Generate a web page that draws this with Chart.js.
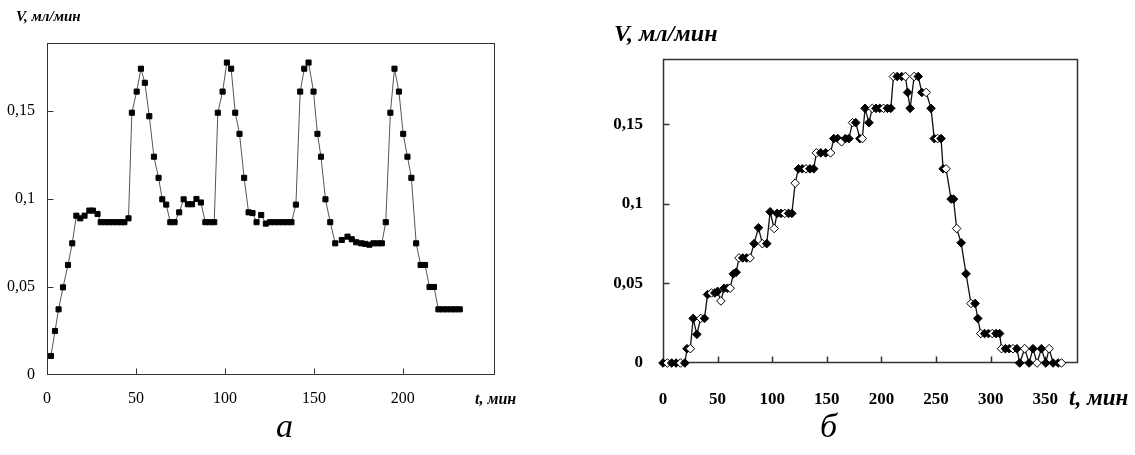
<!DOCTYPE html>
<html>
<head>
<meta charset="utf-8">
<script src="https://cdn.jsdelivr.net/npm/chart.js@4.4.1/dist/chart.umd.min.js"></script>
<style>
  body { margin: 0; background: #fff; width: 1135px; height: 455px; overflow: hidden; position: relative; font-family: "Liberation Serif", "Times New Roman", serif; }
  canvas { position: absolute; top: 0; }
  #chartA { left: 0; }
  #chartB { left: 560px; }
  .lbl { position: absolute; white-space: nowrap; font-style: italic; line-height: 1; color: #000; }
  .b { font-weight: bold; }
</style>
</head>
<body>
<canvas id="chartA" width="520" height="420"></canvas>
<canvas id="chartB" width="575" height="420"></canvas>

<div class="lbl b" style="left:16px; top:9px; font-size:15px;">V, мл/мин</div>
<div class="lbl b" style="left:475px; top:391px; font-size:16px;">t, мин</div>
<div class="lbl" style="left:276px; top:409px; font-size:34px;">а</div>

<div class="lbl b" style="left:614px; top:21px; font-size:24px;">V, мл/мин</div>
<div class="lbl b" style="left:1069px; top:386px; font-size:23px;">t, мин</div>
<div class="lbl" style="left:820px; top:409px; font-size:34px;">б</div>

<script>
// chart a: four peaks, t in min, V in ml/min
const timeA = [2.2, 4.5, 6.5, 9, 11.8, 14.2, 16.5, 18.7, 21.1, 23.8, 25.8, 28.4,
  30.2, 32.5, 34.8, 37.1, 39.4, 41.7, 43.5, 45.8,
  47.7, 50.4, 52.8, 55, 57.5, 60.1, 62.7, 64.8, 67, 69.3, 71.7,
  74.3, 76.8, 79.2, 81.5, 84, 86.5, 89, 91.5, 94,
  96, 98.7, 101.1, 103.5, 105.8, 108.2, 110.8, 113.3, 115.5, 117.8, 120.4, 123,
  125.4, 127.8, 130.2, 132.6, 135, 137.4, 139.9,
  142.3, 144.6, 147, 149.8, 152, 154, 156.5, 159.2, 162,
  165.7, 168.9, 171.3, 173.8, 176.6, 178.8, 181.2, 183.5, 186, 188.2, 190.4,
  193, 195.3, 197.8, 200.2, 202.6, 204.8, 207.5, 210, 212.5, 215, 217.5,
  220, 222.4, 224.8, 227.2, 229.6, 232];
const rateA = [0.0108, 0.025, 0.0373, 0.0498, 0.0625, 0.0748, 0.0905, 0.089, 0.0905, 0.0934, 0.0934, 0.0915,
  0.0868, 0.0868, 0.0868, 0.0868, 0.0868, 0.0868, 0.0868, 0.089,
  0.149, 0.161, 0.174, 0.166, 0.147, 0.124, 0.112, 0.0998, 0.0968, 0.0868, 0.0868,
  0.0924, 0.0998, 0.097, 0.097, 0.1, 0.098, 0.0868, 0.0868, 0.0868,
  0.149, 0.161, 0.1775, 0.174, 0.149, 0.137, 0.112, 0.0924, 0.092, 0.0868, 0.0909, 0.086,
  0.0868, 0.0868, 0.0868, 0.0868, 0.0868, 0.0868, 0.0968,
  0.161, 0.174, 0.1775, 0.161, 0.137, 0.124, 0.0998, 0.0868, 0.0748,
  0.0767, 0.0786, 0.0771, 0.0754, 0.0748, 0.0745, 0.074, 0.0748, 0.0748, 0.0748, 0.0868,
  0.149, 0.174, 0.161, 0.137, 0.124, 0.112, 0.0748, 0.0625, 0.0625, 0.05, 0.05,
  0.0373, 0.0373, 0.0373, 0.0373, 0.0373, 0.0373];

// chart b: slow rise and fall
const timeB = [0, 4, 8, 12, 16, 20, 22, 25, 27.6, 31, 34.5, 38, 40.8, 44.4, 47.5, 50, 53, 56, 59, 61.5,
  64.4, 67, 69.6, 73, 76.5, 79.7, 83.4, 87.4, 91, 95, 98.1, 101.8, 104.5, 108, 111.5, 115, 118,
  121, 124, 127.5, 131, 134.5, 138, 140.5, 144.5, 149, 153.4, 156.4, 160, 163.5, 167, 170.2,
  173.6, 176.5, 180.3, 182.5, 185, 188.6, 191.6, 195, 198.5, 202, 205.5, 208.6,
  211, 214.5, 218.5, 222, 224, 226.3, 230, 233.7, 237, 241, 245.4,
  248.4, 251.5, 254.6, 256.5, 259.2, 263.8, 266, 268.9, 273, 277.5, 282, 285.8, 288.2,
  291, 294.5, 298, 301.5, 305, 308.2, 310, 313.5, 317, 320.5, 324,
  326.6, 331.2, 335.2, 338.8, 342.5, 346.5, 350.5, 353.6, 357.2, 361.8, 364.9];
const rateB = [0, 0, 0, 0, 0, 0, 0.009, 0.009, 0.028, 0.018, 0.028, 0.028, 0.043, 0.044, 0.044, 0.045, 0.039, 0.047, 0.047, 0.047,
  0.056, 0.057, 0.066, 0.066, 0.066, 0.066, 0.075, 0.085, 0.075, 0.075, 0.095, 0.0845, 0.094, 0.094, 0.094, 0.094, 0.094,
  0.113, 0.122, 0.122, 0.122, 0.122, 0.122, 0.132, 0.132, 0.132, 0.132, 0.141, 0.141, 0.139, 0.141, 0.141,
  0.151, 0.151, 0.141, 0.141, 0.16, 0.151, 0.16, 0.16, 0.16, 0.16, 0.16, 0.16,
  0.18, 0.18, 0.18, 0.18, 0.17, 0.16, 0.18, 0.18, 0.17, 0.17, 0.16,
  0.141, 0.141, 0.141, 0.122, 0.122, 0.103, 0.103, 0.0845, 0.0755, 0.056, 0.0374, 0.0374, 0.028,
  0.0185, 0.0185, 0.0185, 0.0185, 0.0185, 0.0185, 0.009, 0.009, 0.009, 0.009, 0.009,
  0, 0.009, 0, 0.009, 0, 0.009, 0, 0.009, 0, 0, 0];

const xTicksA = [0, 50, 100, 150, 200];
const xTicksB = [0, 50, 100, 150, 200, 250, 300, 350];
const yTicks = [0, 0.05, 0.1, 0.15];

function comma(v) {
  return String(Number(v.toFixed(2))).replace('.', ',');
}

// box round the plot area + short ticks pointing inwards
const frameTicks = {
  id: 'frameTicks',
  beforeDatasetsDraw(chart, args, opts) {
    const { ctx, chartArea: a, scales } = chart;
    const L = Math.round(a.left) + 0.5, R = Math.round(a.right) - 0.5;
    const T = Math.round(a.top) + 0.5, B = Math.round(a.bottom) - 0.5;
    ctx.save();
    ctx.strokeStyle = opts.color;
    ctx.lineWidth = opts.width;
    ctx.strokeRect(L, T, R - L, B - T);
    ctx.beginPath();
    scales.x.ticks.forEach(t => {
      const px = Math.round(scales.x.getPixelForValue(t.value)) + 0.5;
      if (px <= L + 1) return;
      ctx.moveTo(px, B);
      ctx.lineTo(px, B - opts.len);
    });
    scales.y.ticks.forEach(t => {
      const py = Math.round(scales.y.getPixelForValue(t.value)) + 0.5;
      if (py >= B - 1) return;
      ctx.moveTo(L, py);
      ctx.lineTo(L + opts.len, py);
    });
    ctx.stroke();
    ctx.restore();
  }
};

function makeChart(id, xs, ys, cfg) {
  const points = xs.map((t, i) => ({ x: t, y: ys[i] }));
  return new Chart(document.getElementById(id), {
    type: 'line',
    data: {
      datasets: [{
        data: points,
        borderColor: cfg.lineColor,
        borderWidth: cfg.lineWidth,
        pointStyle: cfg.pointStyle,
        pointRadius: cfg.pointRadius,
        pointBackgroundColor: cfg.pointFill,
        pointBorderColor: cfg.pointBorder,
        pointBorderWidth: 1,
        tension: 0,
        clip: false
      }]
    },
    options: {
      responsive: false,
      animation: false,
      devicePixelRatio: 1,
      layout: { padding: { left: 0, top: cfg.top, right: cfg.right, bottom: 0 } },
      plugins: {
        legend: { display: false },
        tooltip: { enabled: false },
        frameTicks: { color: cfg.frameColor, width: cfg.frameWidth, len: cfg.tickLen }
      },
      scales: {
        x: {
          type: 'linear',
          min: 0,
          max: cfg.xMax,
          grid: { display: false, drawTicks: false },
          border: { display: false },
          afterBuildTicks: s => { s.ticks = cfg.xTicks.map(v => ({ value: v })); },
          afterFit: s => { s.height = cfg.xAxisH; },
          ticks: {
            padding: cfg.xPad,
            maxRotation: 0,
            autoSkip: false,
            color: '#000',
            font: cfg.font
          }
        },
        y: {
          min: 0,
          max: cfg.yMax,
          grid: { display: false, drawTicks: false },
          border: { display: false },
          afterBuildTicks: s => { s.ticks = yTicks.map(v => ({ value: v })); },
          afterFit: s => { s.width = cfg.yAxisW; },
          ticks: {
            padding: cfg.yPad,
            color: '#000',
            font: cfg.font,
            callback: v => comma(v)
          }
        }
      }
    },
    plugins: [frameTicks]
  });
}

makeChart('chartA', timeA, rateA, {
  lineColor: '#555', lineWidth: 1,
  pointStyle: 'rect', pointRadius: 3.6,
  pointFill: '#000', pointBorder: '#000',
  frameColor: '#333', frameWidth: 1, tickLen: 6,
  top: 43, right: 25, xAxisH: 45, yAxisW: 47,
  xMax: 251.8, yMax: 0.1886,
  xTicks: xTicksA, xPad: 14, yPad: 12,
  font: { family: 'Liberation Serif', size: 16 }
});

makeChart('chartB', timeB, rateB, {
  lineColor: '#111', lineWidth: 1.3,
  pointStyle: 'rectRot', pointRadius: 4.3,
  pointFill: ctx => (ctx.dataIndex % 3 === 1 ? '#fff' : '#000'),
  pointBorder: '#000',
  frameColor: '#333', frameWidth: 1.5, tickLen: 6,
  top: 59, right: 57, xAxisH: 57, yAxisW: 103,
  xMax: 380, yMax: 0.191,
  xTicks: xTicksB, xPad: 26, yPad: 20,
  font: { family: 'Liberation Serif', size: 17, weight: 'bold' }
});
</script>
</body>
</html>
